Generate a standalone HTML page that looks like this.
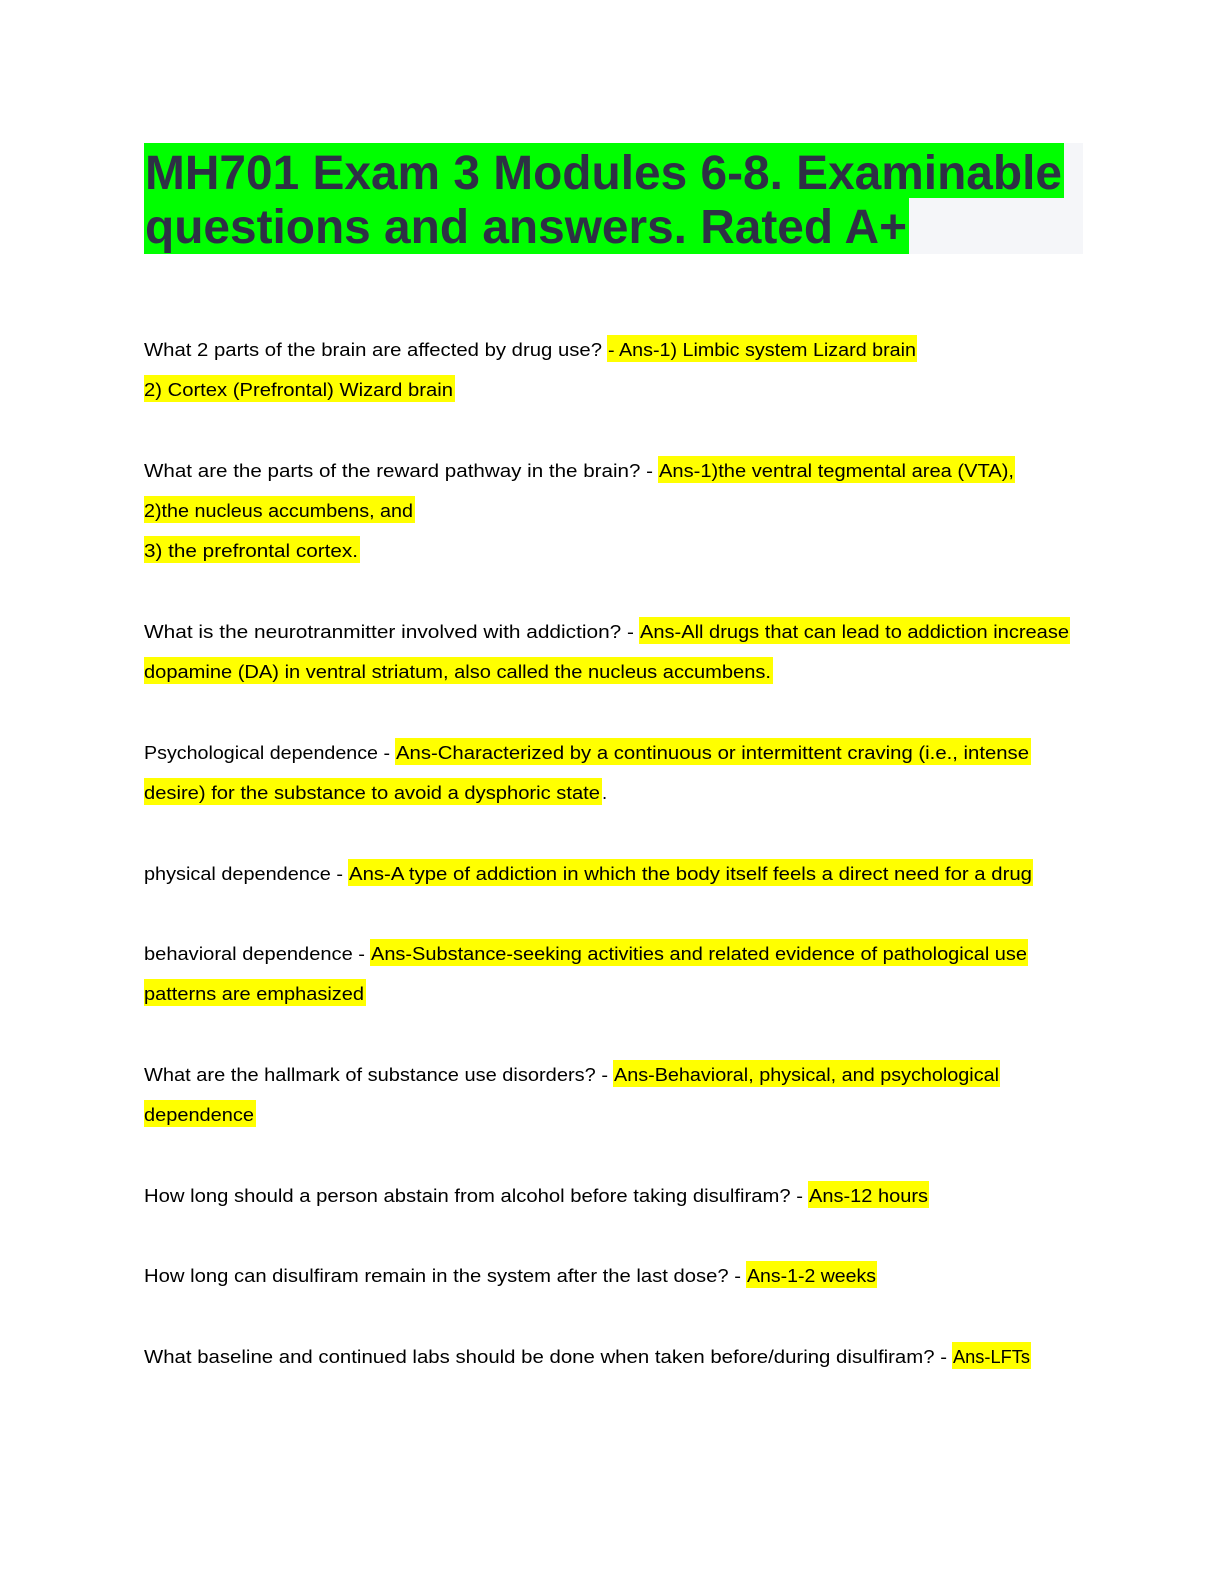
<!DOCTYPE html>
<html>
<head>
<meta charset="utf-8">
<style>
  html, body { margin:0; padding:0; background:#ffffff; }
  body { width:1224px; height:1584px; overflow:hidden; }
  svg { display:block; }
  .t { font-family:"Liberation Sans", Arial, sans-serif; font-size:18.5px; fill:#000; }
  .h { font-family:"Liberation Sans", Arial, sans-serif; font-size:48px; font-weight:bold; fill:#2e3045; }
</style>
</head>
<body>
<svg width="1224" height="1584" viewBox="0 0 1224 1584" xmlns="http://www.w3.org/2000/svg">
  <rect x="0" y="0" width="1224" height="1584" fill="#ffffff"/>

  <!-- Title -->
  <rect x="144" y="143" width="939" height="111" fill="#f5f6f9"/>
  <rect x="144" y="143" width="920" height="55" fill="#00ff00"/>
  <rect x="144" y="198" width="765" height="56" fill="#00ff00"/>
  <text class="h" x="145" y="189" textLength="917" lengthAdjust="spacingAndGlyphs">MH701 Exam 3 Modules 6-8. Examinable</text>
  <text class="h" x="145" y="243" textLength="762" lengthAdjust="spacingAndGlyphs">questions and answers. Rated A+</text>

  <!-- Highlights -->
  <g fill="#ffff00">
    <rect x="607" y="335" width="310" height="27"/>
    <rect x="144" y="375" width="311" height="27"/>
    <rect x="658" y="456" width="357" height="27"/>
    <rect x="144" y="496" width="271" height="27"/>
    <rect x="144" y="536" width="216" height="27"/>
    <rect x="639" y="617" width="431" height="27"/>
    <rect x="144" y="657" width="629" height="27"/>
    <rect x="395" y="738" width="636" height="27"/>
    <rect x="144" y="778" width="458" height="27"/>
    <rect x="348" y="859" width="685" height="27"/>
    <rect x="370" y="939" width="658" height="27"/>
    <rect x="144" y="979" width="222" height="27"/>
    <rect x="613" y="1060" width="387" height="27"/>
    <rect x="144" y="1100" width="112" height="27"/>
    <rect x="808" y="1181" width="121" height="27"/>
    <rect x="746" y="1261" width="131" height="27"/>
    <rect x="952" y="1342" width="79" height="27"/>
  </g>

  <!-- Body text -->
  <g class="t">
    <text x="144" y="356" textLength="458" lengthAdjust="spacingAndGlyphs">What 2 parts of the brain are affected by drug use?</text>
    <text x="608" y="356" textLength="308" lengthAdjust="spacingAndGlyphs">- Ans-1) Limbic system Lizard brain</text>

    <text x="144" y="396" textLength="309" lengthAdjust="spacingAndGlyphs">2) Cortex (Prefrontal) Wizard brain</text>

    <text x="144" y="477" textLength="509" lengthAdjust="spacingAndGlyphs">What are the parts of the reward pathway in the brain? -</text>
    <text x="659" y="477" textLength="355" lengthAdjust="spacingAndGlyphs">Ans-1)the ventral tegmental area (VTA),</text>

    <text x="144" y="517" textLength="269" lengthAdjust="spacingAndGlyphs">2)the nucleus accumbens, and</text>

    <text x="144" y="557" textLength="214" lengthAdjust="spacingAndGlyphs">3) the prefrontal cortex.</text>

    <text x="144" y="638" textLength="490" lengthAdjust="spacingAndGlyphs">What is the neurotranmitter involved with addiction? -</text>
    <text x="640" y="638" textLength="429" lengthAdjust="spacingAndGlyphs">Ans-All drugs that can lead to addiction increase</text>

    <text x="144" y="678" textLength="627" lengthAdjust="spacingAndGlyphs">dopamine (DA) in ventral striatum, also called the nucleus accumbens.</text>

    <text x="144" y="759" textLength="246" lengthAdjust="spacingAndGlyphs">Psychological dependence -</text>
    <text x="396" y="759" textLength="633" lengthAdjust="spacingAndGlyphs">Ans-Characterized by a continuous or intermittent craving (i.e., intense</text>

    <text x="144" y="799" textLength="456" lengthAdjust="spacingAndGlyphs">desire) for the substance to avoid a dysphoric state</text>
    <text x="602" y="799">.</text>

    <text x="144" y="880" textLength="199" lengthAdjust="spacingAndGlyphs">physical dependence -</text>
    <text x="349" y="880" textLength="683" lengthAdjust="spacingAndGlyphs">Ans-A type of addiction in which the body itself feels a direct need for a drug</text>

    <text x="144" y="960" textLength="221" lengthAdjust="spacingAndGlyphs">behavioral dependence -</text>
    <text x="371" y="960" textLength="656" lengthAdjust="spacingAndGlyphs">Ans-Substance-seeking activities and related evidence of pathological use</text>

    <text x="144" y="1000" textLength="220" lengthAdjust="spacingAndGlyphs">patterns are emphasized</text>

    <text x="144" y="1081" textLength="464" lengthAdjust="spacingAndGlyphs">What are the hallmark of substance use disorders? -</text>
    <text x="614" y="1081" textLength="385" lengthAdjust="spacingAndGlyphs">Ans-Behavioral, physical, and psychological</text>

    <text x="144" y="1121" textLength="110" lengthAdjust="spacingAndGlyphs">dependence</text>

    <text x="144" y="1202" textLength="659" lengthAdjust="spacingAndGlyphs">How long should a person abstain from alcohol before taking disulfiram? -</text>
    <text x="809" y="1202" textLength="119" lengthAdjust="spacingAndGlyphs">Ans-12 hours</text>

    <text x="144" y="1282" textLength="597" lengthAdjust="spacingAndGlyphs">How long can disulfiram remain in the system after the last dose? -</text>
    <text x="747" y="1282" textLength="129" lengthAdjust="spacingAndGlyphs">Ans-1-2 weeks</text>

    <text x="144" y="1363" textLength="803" lengthAdjust="spacingAndGlyphs">What baseline and continued labs should be done when taken before/during disulfiram? -</text>
    <text x="953" y="1363" textLength="77" lengthAdjust="spacingAndGlyphs">Ans-LFTs</text>
  </g>
</svg>
</body>
</html>
